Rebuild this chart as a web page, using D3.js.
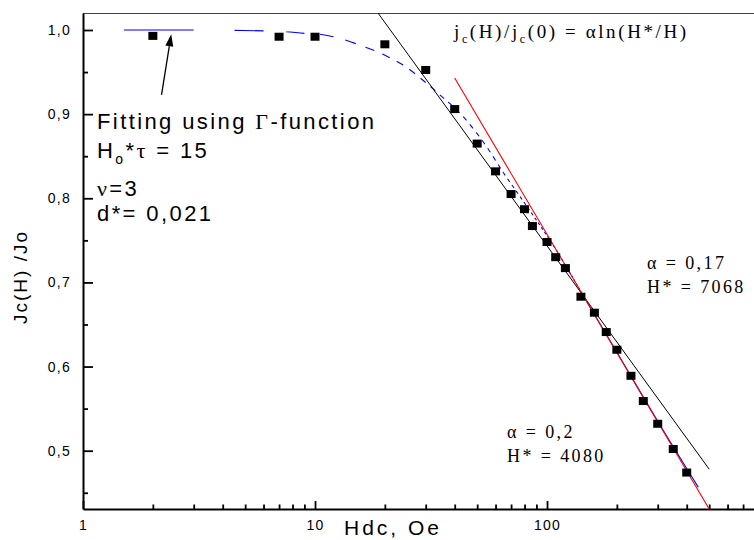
<!DOCTYPE html>
<html>
<head>
<meta charset="utf-8">
<script src="https://cdn.jsdelivr.net/npm/d3@7"></script>
<style>
  body { margin: 0; background: #fff; }
  svg { display: block; }
  .sans { font-family: "Liberation Sans", Arial, sans-serif; }
  .serif { font-family: "Liberation Serif", "Times New Roman", serif; }
</style>
</head>
<body>
<svg width="754" height="540"></svg>
<script>
// measured points
const hData = [2, 7, 10, 20, 30, 40, 50, 60, 70, 80, 86.5, 100, 109, 120, 140, 160, 180, 200, 230, 260, 300, 350, 400];
const jData = [0.993, 0.992, 0.992, 0.983, 0.9525, 0.906, 0.865, 0.832, 0.805, 0.787, 0.767, 0.748, 0.730, 0.717, 0.683, 0.664, 0.641, 0.620, 0.589, 0.559, 0.532, 0.502, 0.474];

// Gamma-function fit (blue dashed)
const gammaH = [1.5, 3, 4.5, 6, 7.5, 9, 10.5, 12, 13.5, 16, 20, 25, 28.4, 34.5, 43.5, 55, 65, 76.5, 90, 103, 150, 200, 300, 449];
const gammaJ = [1.000, 1.000, 0.9995, 0.999, 0.998, 0.996, 0.995, 0.992, 0.988, 0.981, 0.970, 0.955, 0.943, 0.923, 0.897, 0.861, 0.830, 0.802, 0.774, 0.750, 0.675, 0.617, 0.535, 0.4565];

// log fits
const blackH = [18.7, 500];
const blackJ = [1.02, 0.478];
const redH = [40, 500];
const redJ = [0.943, 0.4307];

const yMajor = [0.5, 0.6, 0.7, 0.8, 0.9, 1.0];
const yMinor = [0.45, 0.55, 0.65, 0.75, 0.85, 0.95];
const xMajor = [1, 10, 100];
const xMinor = [2, 3, 4, 5, 6, 7, 8, 9, 20, 30, 40, 50, 60, 70, 80, 90, 200, 300, 400, 500, 600, 700];

const svg = d3.select("svg");
const pLeft = 83, pRight = 754, pTop = 13, pBottom = 509;

const x = d3.scaleLog().domain([1, 780]).range([pLeft, pRight]);
const y = d3.scaleLinear().domain([0.4307, 1.0202]).range([pBottom, pTop]);

svg.append("clipPath").attr("id", "plot")
  .append("rect").attr("x", pLeft).attr("y", pTop)
  .attr("width", pRight - pLeft).attr("height", pBottom - pTop);

// top frame line
svg.append("line")
  .attr("x1", pLeft).attr("x2", pRight).attr("y1", pTop + 0.5).attr("y2", pTop + 0.5)
  .attr("stroke", "#444").attr("stroke-width", 1);

const comma = d => d3.format(".1f")(d).replace(".", ",");

const yAxis = svg.append("g").attr("transform", `translate(${pLeft},0)`)
  .call(d3.axisLeft(y).tickValues(yMajor).tickSize(-10).tickSizeOuter(0).tickPadding(12).tickFormat(comma));
svg.append("g").attr("transform", `translate(${pLeft},0)`)
  .call(d3.axisLeft(y).tickValues(yMinor).tickSize(-5).tickSizeOuter(0).tickFormat(""))
  .select(".domain").remove();

const xAxis = svg.append("g").attr("transform", `translate(0,${pBottom})`)
  .call(d3.axisBottom(x).tickValues(xMajor).tickSize(-8).tickSizeOuter(0).tickPadding(11).tickFormat(d => d));
svg.append("g").attr("transform", `translate(0,${pBottom})`)
  .call(d3.axisBottom(x).tickValues(xMinor).tickSize(-4.5).tickSizeOuter(0).tickFormat(""))
  .select(".domain").remove();

svg.selectAll(".domain").attr("stroke", "#000").attr("stroke-width", 2);
svg.selectAll(".tick line").attr("stroke", "#000").attr("stroke-width", 1.8);
svg.selectAll(".tick text")
  .attr("class", "sans").attr("fill", "#000")
  .style("font-size", "14px").style("letter-spacing", "1.3px");

const plot = svg.append("g").attr("clip-path", "url(#plot)");

const line = d3.line().x(d => x(d[0])).y(d => y(d[1]));
const smooth = d3.line().x(d => x(d[0])).y(d => y(d[1])).curve(d3.curveMonotoneX);

// blue Gamma fit, dash breaks at every 1.5 Oe step like the original plot
const bluePath = plot.append("path")
  .datum(d3.zip(gammaH, gammaJ))
  .attr("fill", "none").attr("stroke", "#0000ff").attr("stroke-width", 1.1)
  .attr("d", smooth);

(function dashBlue() {
  const node = bluePath.node();
  const total = node.getTotalLength();
  const lenAtX = px => {
    let lo = 0, hi = total;
    for (let i = 0; i < 40; i++) {
      const mid = (lo + hi) / 2;
      if (node.getPointAtLength(mid).x < px) lo = mid; else hi = mid;
    }
    return (lo + hi) / 2;
  };
  const step = gammaH[0];
  const lens = [];
  for (let k = 1; step * k <= gammaH[gammaH.length - 1]; k++) lens.push(lenAtX(x(step * k)));
  const dash = [];
  for (let i = 0; i < lens.length - 1; i++) {
    const seg = lens[i + 1] - lens[i];
    if (i % 2 === 0 && seg < 2) {
      dash.push(total - lens[i] + 5);
      break;
    }
    dash.push(seg);
  }
  dash.push(total + 10);
  bluePath.attr("stroke-dasharray", dash.map(v => v.toFixed(2)).join(","));
})();

plot.append("path")
  .datum(d3.zip(blackH, blackJ))
  .attr("fill", "none").attr("stroke", "#000").attr("stroke-width", 1)
  .attr("d", line);

plot.append("path")
  .datum(d3.zip(redH, redJ))
  .attr("fill", "none").attr("stroke", "#ff0000").attr("stroke-width", 1.1)
  .attr("d", line);

// data squares
const sq = 9;
plot.selectAll("rect.pt")
  .data(d3.zip(hData, jData))
  .enter().append("rect")
  .attr("class", "pt")
  .attr("x", d => x(d[0]) - sq / 2)
  .attr("y", d => y(d[1]) - 4)
  .attr("width", sq).attr("height", 8)
  .attr("fill", "#000");

// arrow to the fit curve
const tail = [x(2.18), y(0.923)], tip = [x(2.4), y(0.995)];
const ang = Math.atan2(tip[1] - tail[1], tip[0] - tail[0]);
const hl = 12, hw = 4;
const base = [tip[0] - hl * Math.cos(ang), tip[1] - hl * Math.sin(ang)];
svg.append("line")
  .attr("x1", tail[0]).attr("y1", tail[1]).attr("x2", base[0]).attr("y2", base[1])
  .attr("stroke", "#000").attr("stroke-width", 1.3);
svg.append("path")
  .attr("d", `M${tip[0]},${tip[1]}L${base[0] - hw * Math.sin(ang)},${base[1] + hw * Math.cos(ang)}L${base[0] + hw * Math.sin(ang)},${base[1] - hw * Math.cos(ang)}Z`)
  .attr("fill", "#000");

// left annotation block
const note = svg.append("g").attr("class", "sans")
  .style("font-size", "22px").style("letter-spacing", "2.4px").attr("fill", "#000");
const t1 = note.append("text").attr("x", 97).attr("y", 129);
t1.append("tspan").text("Fitting using ");
t1.append("tspan").attr("class", "serif").text("Γ");
t1.append("tspan").text("-function");
const t2 = note.append("text").attr("x", 97).attr("y", 158);
t2.append("tspan").text("H");
t2.append("tspan").attr("dy", 6).style("font-size", "14px").text("o");
t2.append("tspan").attr("dy", -6).text("*");
t2.append("tspan").attr("class", "serif").text("τ");
t2.append("tspan").text(" = 15");
const t3 = note.append("text").attr("x", 97).attr("y", 196);
t3.append("tspan").attr("class", "serif").text("ν");
t3.append("tspan").text("=3");
note.append("text").attr("x", 97).attr("y", 221).text("d*= 0,021");

// formula and fit parameters
const ser = svg.append("g").attr("class", "serif").attr("fill", "#000")
  .style("font-size", "18px").style("letter-spacing", "2.4px");
const f = ser.append("text").attr("x", 454).attr("y", 38)
  .style("font-size", "19px").style("letter-spacing", "2.6px");
f.append("tspan").text("j");
f.append("tspan").attr("dy", 5).style("font-size", "12px").text("c");
f.append("tspan").attr("dy", -5).text("(H)/j");
f.append("tspan").attr("dy", 5).style("font-size", "12px").text("c");
f.append("tspan").attr("dy", -5).text("(0) = αln(H*/H)");

ser.append("text").attr("x", 647).attr("y", 269).text("α = 0,17");
ser.append("text").attr("x", 647).attr("y", 293).text("H* = 7068");
ser.append("text").attr("x", 507).attr("y", 438).text("α = 0,2");
ser.append("text").attr("x", 507).attr("y", 462).text("H* = 4080");

// axis titles
svg.append("text").attr("class", "sans")
  .attr("x", 393).attr("y", 535).attr("text-anchor", "middle")
  .style("font-size", "21px").style("letter-spacing", "3px")
  .text("Hdc, Oe");
svg.append("text").attr("class", "sans")
  .attr("transform", "translate(27,277) rotate(-90)").attr("text-anchor", "middle")
  .style("font-size", "19px").style("letter-spacing", "2px")
  .text("Jc(H) /Jo");
</script>
</body>
</html>
